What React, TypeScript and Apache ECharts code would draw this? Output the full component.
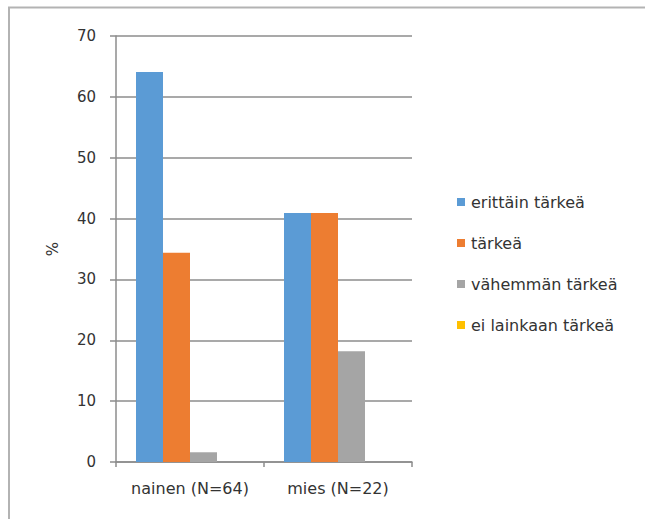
import React, { useEffect, useRef } from "react";
import * as echarts from "echarts";

// Gender groups on the x axis
const categories = ["nainen (N=64)", "mies (N=22)"];

// Share of answers (%) per importance level, one value per group
const seriesNames = ["erittäin tärkeä", "tärkeä", "vähemmän tärkeä", "ei lainkaan tärkeä"];
const erittainTarkea = [64.1, 40.9];
const tarkea = [34.4, 40.9];
const vahemmanTarkea = [1.6, 18.2];
const eiLainkaanTarkea = [0, 0];

const seriesColors = ["#5B9BD5", "#ED7D31", "#A5A5A5", "#FFC000"];

const FONT = "DejaVu Sans";

export default function App() {
  const ref = useRef<HTMLDivElement>(null);

  useEffect(() => {
    document.body.style.margin = "0";
    if (!ref.current) return;
    const chart = echarts.init(ref.current, undefined, { renderer: "svg" });
    const values = [erittainTarkea, tarkea, vahemmanTarkea, eiLainkaanTarkea];

    chart.setOption({
      animation: false,
      backgroundColor: "#ffffff",
      textStyle: { fontFamily: FONT },
      grid: { left: 116, right: 233, top: 36, bottom: 57 },
      legend: {
        orient: "vertical",
        left: 452,
        top: 189,
        itemGap: 25,
        itemWidth: 8,
        itemHeight: 8,
        icon: "rect",
        data: seriesNames,
        textStyle: { fontFamily: FONT, fontSize: 16, color: "#333333", lineHeight: 16, padding: [0, 0, 0, 1] },
      },
      xAxis: {
        type: "category",
        data: categories,
        axisLine: { lineStyle: { color: "#8c8c8c", width: 1.5 } },
        axisTick: { show: true, length: 5, interval: 0, lineStyle: { color: "#8c8c8c", width: 1.5 } },
        axisLabel: { interval: 0, margin: 18, fontSize: 16, color: "#333333", fontFamily: FONT },
      },
      yAxis: {
        type: "value",
        min: 0,
        max: 70,
        interval: 10,
        name: "%",
        nameLocation: "middle",
        nameGap: 56,
        nameRotate: 90,
        nameTextStyle: { fontSize: 15, color: "#333333", fontFamily: FONT },
        axisLine: { show: true, lineStyle: { color: "#8c8c8c", width: 1.5 } },
        axisTick: { show: true, length: 6, lineStyle: { color: "#8c8c8c", width: 1.5 } },
        axisLabel: { margin: 20, fontSize: 15, color: "#333333", fontFamily: FONT },
        splitLine: { show: true, lineStyle: { color: "#8c8c8c", width: 1.5 } },
      },
      series: seriesNames.map((name, i) => ({
        name,
        type: "bar",
        data: values[i],
        barWidth: 27,
        barGap: "0%",
        itemStyle: { color: seriesColors[i] },
      })),
      graphic: [
        {
          type: "line",
          shape: { x1: 8, y1: 7.5, x2: 645, y2: 7.5 },
          style: { stroke: "#b3b3b3", lineWidth: 2 },
          silent: true,
        },
        {
          type: "line",
          shape: { x1: 9, y1: 7, x2: 9, y2: 519 },
          style: { stroke: "#b3b3b3", lineWidth: 2 },
          silent: true,
        },
      ],
    });

    return () => chart.dispose();
  }, []);

  return <div ref={ref} style={{ width: 645, height: 519 }} />;
}
